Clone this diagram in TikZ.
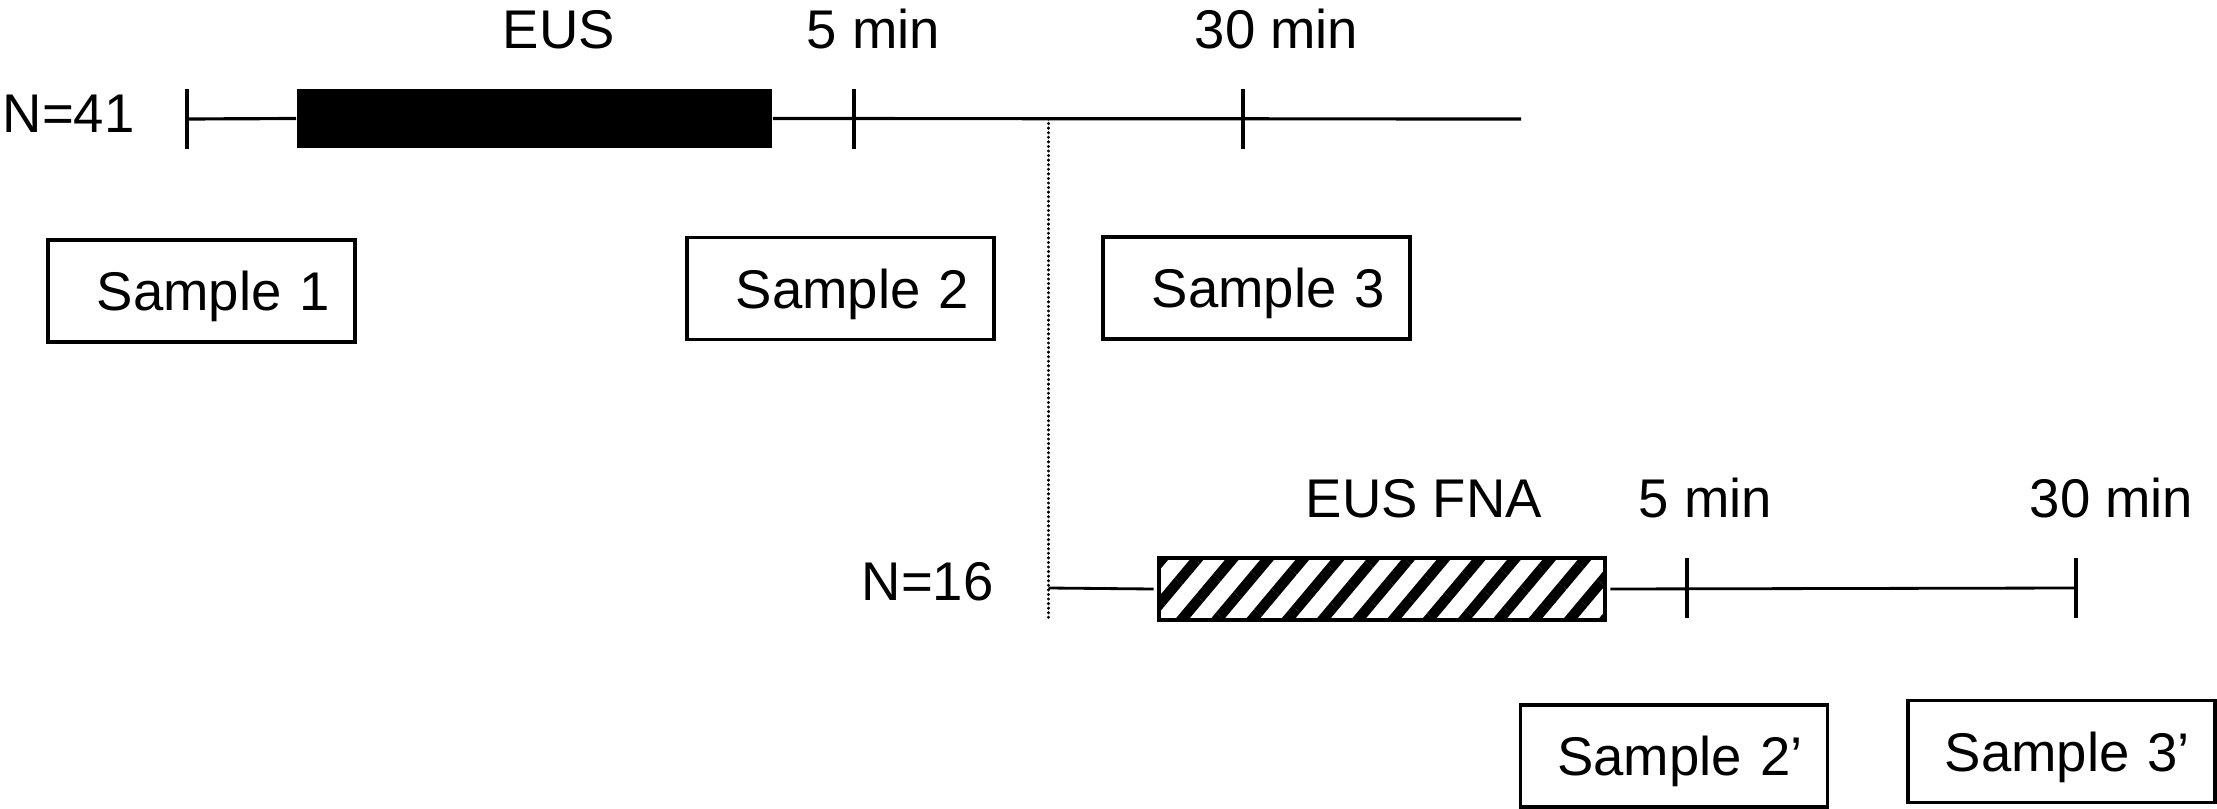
\documentclass[tikz,border=0pt]{standalone}
\usepackage{fontspec}
\setmainfont{Liberation Sans}
\usetikzlibrary{patterns.meta}

\begin{document}
\begin{tikzpicture}[x=0.01cm, y=-0.01cm,
    every node/.style={font=\fontsize{15.5}{18}\selectfont},
    lbl/.style={anchor=base west, inner sep=0pt},
    tickmark/.style={inner sep=0pt, minimum width=0pt, minimum height=0.58cm},
    eusbar/.style={fill=black, inner sep=0pt, minimum width=4.75cm, minimum height=0.59cm},
    fnabar/.style={draw, line width=1.2pt, inner sep=0pt, minimum width=4.46cm, minimum height=0.62cm,
      pattern={Lines[angle=50, distance=0.27cm, line width=0.105cm]}},
    samplebox/.style={draw, line width=1.05pt, inner xsep=0.25cm, text width=2.57cm, align=right,
      minimum height=1.02cm, text height=0.39cm, text depth=0pt}]
          \useasboundingbox (0,0) rectangle (2217,809);
          % upper time line, N=41
          \node[lbl] (n41) at (2,132) {N=41};
          \node[tickmark] (t0)  at (187,119)  {};
          \node[tickmark] (t5)  at (854,119)  {};
          \node[tickmark] (t30) at (1243,119) {};
          \coordinate (end) at (1521,119);
          \node[eusbar] (eus) at (534.5,118.5) {};
          \node[lbl] (eustxt) at (502,48)  {EUS};
          \node[lbl] (min5)   at (806,48)  {5 min};
          \node[lbl] (min30)  at (1194,48) {30 min};
          \path[line width=0.9pt]
            (t0) edge (eus.west)
            (eus.east) edge (end)
            ;
          % samples
          \node[samplebox] (s1) at (201.5,291)  {Sample 1};
          \node[samplebox] (s2) at (840.5,288.5) {Sample 2};
          \node[samplebox] (s3) at (1256.5,288) {Sample 3};
          % split
          \coordinate (split) at (1048.5,119);
          \coordinate (splitend) at (1048.5,620);
          \path[line width=0.95pt, line cap=round, dash pattern=on 0pt off 1.3pt]
            (split) edge (splitend);
          % lower time line, N=16
          \node[lbl] (n16) at (861,600) {N=16};
          \coordinate (l0) at (1048.5,588);
          \node[fnabar] (fna) at (1382,589) {};
          \node[tickmark] (u5)  at (1687,588) {};
          \node[tickmark] (u30) at (2076,588) {};
          \node[lbl] (fnatxt) at (1305,517) {EUS FNA};
          \node[lbl] (min5b)  at (1638,517) {5 min};
          \node[lbl] (min30b) at (2029,517) {30 min};
          \path[line width=0.8pt]
            (l0) edge (fna.west)
            (fna.east) edge (u30)
            ;
          \node[samplebox] (s2p) at (1674,756)   {Sample 2’};
          \node[samplebox] (s3p) at (2061.5,751.5) {Sample 3’};
          % ticks
          \foreach \t in {t0,t5,t30,u5,u30}
            \path[line width=0.95pt] (\t.north) edge (\t.south);
        \end{tikzpicture}
\end{document}
